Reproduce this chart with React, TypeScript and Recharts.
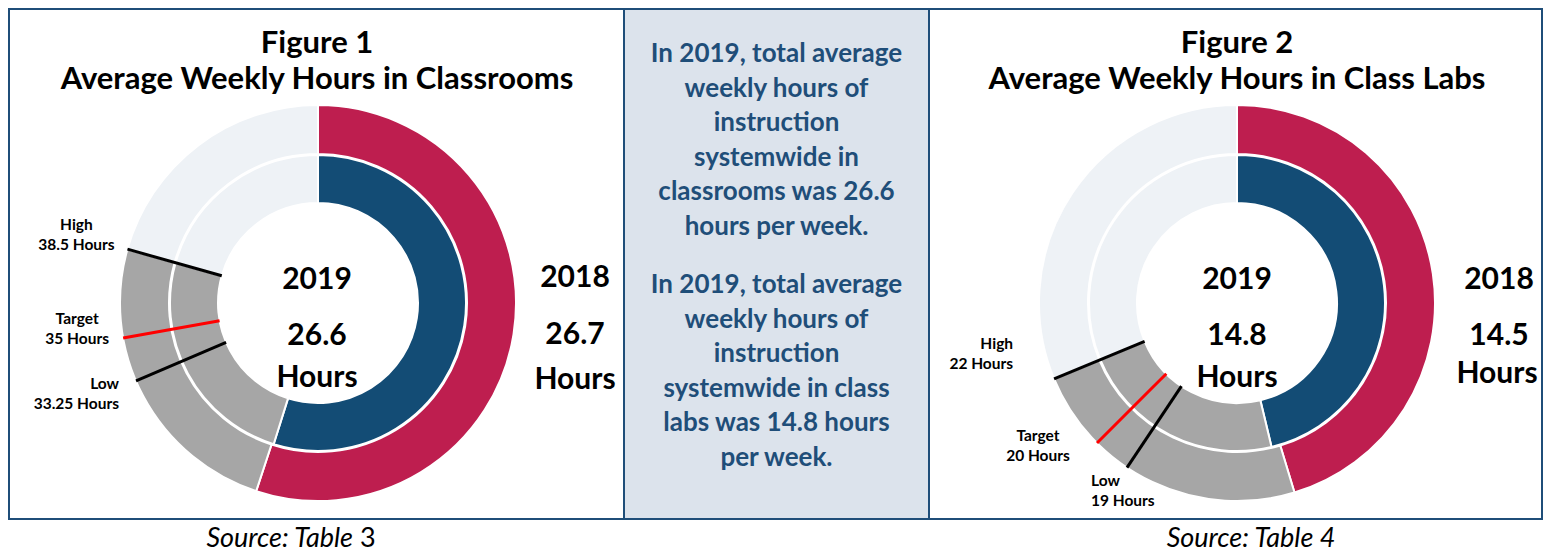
import { PieChart, Pie, Cell } from "recharts";

// Figure 1 – classrooms
const fig1Years = ["2018", "2019"];
const fig1Hours = [26.7, 26.6];
const fig1MarkNames = ["Low", "Target", "High"];
const fig1MarkHours = [33.25, 35, 38.5];
const fig1Rest = 10;

// Figure 2 – class labs
const fig2Years = ["2018", "2019"];
const fig2Hours = [14.5, 14.8];
const fig2MarkNames = ["Low", "Target", "High"];
const fig2MarkHours = [19, 20, 22];
const fig2Rest = 10;

const summary1 = [
  "In 2019, total average",
  "weekly hours of",
  "instruction",
  "systemwide in",
  "classrooms was 26.6",
  "hours per week.",
];
const summary2 = [
  "In 2019, total average",
  "weekly hours of",
  "instruction",
  "systemwide in class",
  "labs was 14.8 hours",
  "per week.",
];

const RED = "#BE1E4F";
const BLUE = "#134C75";
const GRAY = "#A6A6A6";
const LIGHT = "#EEF2F6";
const NAVY = "#1F4E79";
const FONT = "Lato, 'Open Sans', sans-serif";
const markColors = ["#000000", "#FF0000", "#000000"];

type Place = { dx: number; dy: number; anchor: "start" | "middle" | "end" };
const fig1Place: Place[] = [
  { dx: -17, dy: 13, anchor: "end" },
  { dx: -46, dy: -10, anchor: "middle" },
  { dx: -51, dy: -15, anchor: "middle" },
];
const fig2Place: Place[] = [
  { dx: -36, dy: 23, anchor: "start" },
  { dx: -59, dy: 2, anchor: "middle" },
  { dx: -41, dy: -25, anchor: "end" },
];

const RAD = Math.PI / 180;
const polar = (cx: number, cy: number, r: number, a: number) => ({
  x: cx + r * Math.cos(-a * RAD),
  y: cy + r * Math.sin(-a * RAD),
});

const ringData = (hours: number, high: number, rest: number) => [
  { name: "year", value: hours, color: "" },
  { name: "gap", value: high - hours, color: GRAY },
  { name: "rest", value: rest, color: LIGHT },
];

const markData = (marks: number[], rest: number) => [
  { name: "low", value: marks[0] },
  { name: "target", value: marks[1] - marks[0] },
  { name: "high", value: marks[2] - marks[1] },
  { name: "rest", value: rest },
];

const makeMarkLabel = (names: string[], hours: number[], place: Place[]) => (props: any) => {
  const { cx, cy, endAngle, innerRadius, outerRadius, index } = props;
  if (index >= names.length) return null;
  const a = polar(cx, cy, innerRadius, endAngle);
  const b = polar(cx, cy, outerRadius, endAngle);
  const p = place[index];
  const tx = b.x + p.dx;
  const ty = b.y + p.dy;
  return (
    <g key={`mark-${index}`}>
      <line x1={a.x} y1={a.y} x2={b.x} y2={b.y} stroke={markColors[index]} strokeWidth={3} />
      <text textAnchor={p.anchor} fontFamily={FONT} fontWeight={700} fontSize={15.5} fill="#000">
        <tspan x={tx} y={ty - 4.5}>{names[index]}</tspan>
        <tspan x={tx} y={ty + 15.5}>{`${hours[index]} Hours`}</tspan>
      </text>
    </g>
  );
};

const Txt = ({ x, y, size, children, style }: any) => (
  <div
    style={{
      position: "absolute",
      left: x,
      top: y,
      transform: "translate(-50%, -50%)",
      fontFamily: FONT,
      fontWeight: 700,
      fontSize: size,
      lineHeight: 1,
      whiteSpace: "nowrap",
      color: "#000",
      ...style,
    }}
  >
    {children}
  </div>
);

const Donut = ({ hours, marks, names, rest, place }: any) => {
  const outer = ringData(hours[0], marks[2], rest);
  const inner = ringData(hours[1], marks[2], rest);
  const cx = 308;
  const cy = 293;
  return (
    <PieChart width={612} height={508} margin={{ top: 0, right: 0, bottom: 0, left: 0 }}>
      <Pie
        data={outer}
        dataKey="value"
        cx={cx}
        cy={cy}
        innerRadius={149}
        outerRadius={198}
        startAngle={90}
        endAngle={-270}
        stroke="#fff"
        strokeWidth={2}
        isAnimationActive={false}
      >
        {outer.map((d, i) => (
          <Cell key={`o-${i}`} fill={i === 0 ? RED : d.color} />
        ))}
      </Pie>
      <Pie
        data={inner}
        dataKey="value"
        cx={cx}
        cy={cy}
        innerRadius={100}
        outerRadius={148}
        startAngle={90}
        endAngle={-270}
        stroke="#fff"
        strokeWidth={2}
        isAnimationActive={false}
      >
        {inner.map((d, i) => (
          <Cell key={`i-${i}`} fill={i === 0 ? BLUE : d.color} />
        ))}
      </Pie>
      <Pie
        data={markData(marks, rest)}
        dataKey="value"
        cx={cx}
        cy={cy}
        innerRadius={100}
        outerRadius={198}
        startAngle={90}
        endAngle={-270}
        fill="none"
        stroke="none"
        labelLine={false}
        label={makeMarkLabel(names, marks, place)}
        isAnimationActive={false}
      />
    </PieChart>
  );
};

const boxBorder = `2px solid ${NAVY}`;

export default function App() {
  return (
    <div style={{ position: "absolute", left: 0, top: 0, width: 1546, height: 550, background: "#fff" }}>
      <div style={{ position: "absolute", left: 8, top: 8, width: 613, height: 508, border: boxBorder }} />
      <div
        style={{
          position: "absolute",
          left: 623,
          top: 8,
          width: 303,
          height: 508,
          border: boxBorder,
          background: "#DCE3EC",
        }}
      />
      <div style={{ position: "absolute", left: 928, top: 8, width: 611, height: 508, border: boxBorder }} />

      {/* Figure 1 */}
      <div style={{ position: "absolute", left: 10, top: 10 }}>
        <Donut hours={fig1Hours} marks={fig1MarkHours} names={fig1MarkNames} rest={fig1Rest} place={fig1Place} />
      </div>
      <Txt x={317} y={41} size={31}>Figure 1</Txt>
      <Txt x={317} y={77} size={31}>Average Weekly Hours in Classrooms</Txt>
      <Txt x={317} y={277} size={30}>{fig1Years[1]}</Txt>
      <Txt x={317} y={333} size={30}>{fig1Hours[1]}</Txt>
      <Txt x={317} y={375} size={30}>Hours</Txt>
      <Txt x={575} y={275} size={30}>{fig1Years[0]}</Txt>
      <Txt x={575} y={332} size={30}>{fig1Hours[0]}</Txt>
      <Txt x={575} y={377} size={30}>Hours</Txt>
      <Txt x={291} y={537} size={27} style={{ fontWeight: 400, lineHeight: "20px" }}>
        <i>Source: Table</i> 3
      </Txt>

      {/* Summary */}
      {[summary1, summary2].map((lines, p) => (
        <div
          key={p}
          style={{
            position: "absolute",
            left: 625,
            top: p === 0 ? 35 : 266,
            width: 303,
            textAlign: "center",
            fontFamily: FONT,
            fontWeight: 700,
            fontSize: 26,
            lineHeight: "34.5px",
            color: NAVY,
            whiteSpace: "nowrap",
          }}
        >
          {lines.map((l, i) => (
            <div key={i}>{l}</div>
          ))}
        </div>
      ))}

      {/* Figure 2 */}
      <div style={{ position: "absolute", left: 929, top: 10 }}>
        <Donut hours={fig2Hours} marks={fig2MarkHours} names={fig2MarkNames} rest={fig2Rest} place={fig2Place} />
      </div>
      <Txt x={1237} y={41} size={31}>Figure 2</Txt>
      <Txt x={1237} y={77} size={31}>Average Weekly Hours in Class Labs</Txt>
      <Txt x={1237} y={277} size={30}>{fig2Years[1]}</Txt>
      <Txt x={1237} y={333} size={30}>{fig2Hours[1]}</Txt>
      <Txt x={1237} y={375} size={30}>Hours</Txt>
      <Txt x={1499} y={277} size={30}>{fig2Years[0]}</Txt>
      <Txt x={1499} y={333} size={30}>{fig2Hours[0]}</Txt>
      <Txt x={1497} y={371} size={30}>Hours</Txt>
      <Txt x={1251} y={537} size={27} style={{ fontWeight: 400, fontStyle: "italic", lineHeight: "20px" }}>
        Source: Table 4
      </Txt>
    </div>
  );
}
